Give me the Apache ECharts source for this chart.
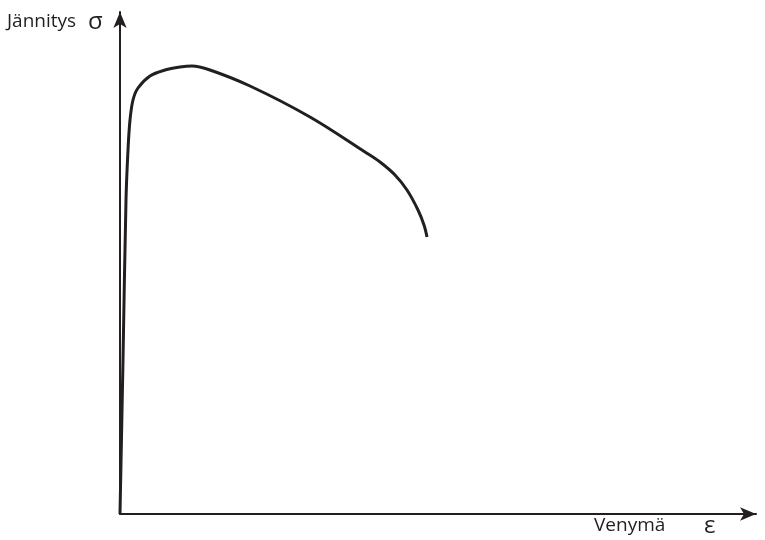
<!DOCTYPE html>
<html>
<head>
<meta charset="utf-8">
<script src="https://cdn.jsdelivr.net/npm/echarts@6/dist/echarts.min.js"></script>
<style>
  html, body { margin: 0; padding: 0; background: #fff; }
  #chart { width: 765px; height: 540px; }
</style>
</head>
<body>
<div id="chart"></div>
<script>
// Stress–strain curve (arbitrary units)
const strain = [0, 3, 6, 8, 10, 13, 18, 30, 45, 60, 72, 90, 130, 190, 245, 260, 275, 287, 298, 304, 307];
const stress = [0, 154, 314, 364, 394, 414, 426, 438, 444, 447, 448, 444, 428, 397, 362, 352, 339, 324, 304, 289, 277];

const yLabel = 'Jännitys';
const ySymbol = 'σ';
const xLabel = 'Venymä';
const xSymbol = 'ε';

const ink = '#231f20';
const chart = echarts.init(document.getElementById('chart'));

chart.setOption({
  backgroundColor: '#fff',
  animation: false,
  grid: { left: 120, right: 9, top: 12, bottom: 26, containLabel: false },
  xAxis: {
    type: 'value', min: 0, max: 636,
    axisLine: { show: true, symbol: ['none', 'arrow'], symbolSize: [10, 16],
      lineStyle: { color: ink, width: 2 } },
    axisTick: { show: false }, axisLabel: { show: false }, splitLine: { show: false }
  },
  yAxis: {
    type: 'value', min: 0, max: 502,
    axisLine: { show: true, symbol: ['none', 'arrow'], symbolSize: [10, 16],
      lineStyle: { color: ink, width: 2 } },
    axisTick: { show: false }, axisLabel: { show: false }, splitLine: { show: false }
  },
  series: [{
    type: 'line',
    data: strain.map((s, i) => [s, stress[i]]),
    smooth: 0.35,
    showSymbol: false,
    lineStyle: { color: ink, width: 3 }
  }],
  graphic: [
    { type: 'text', x: 7, y: 22, style: { text: yLabel, font: '19px "Open Sans"', fill: ink, verticalAlign: 'middle' } },
    { type: 'text', x: 88, y: 22, style: { text: ySymbol, font: '24px "Open Sans"', fill: ink, verticalAlign: 'middle' } },
    { type: 'text', x: 594, y: 526, style: { text: xLabel, font: '19px "Open Sans"', fill: ink, verticalAlign: 'middle' } },
    { type: 'text', x: 704, y: 526, style: { text: xSymbol, font: '24px "Open Sans"', fill: ink, verticalAlign: 'middle' } }
  ]
});
</script>
</body>
</html>
